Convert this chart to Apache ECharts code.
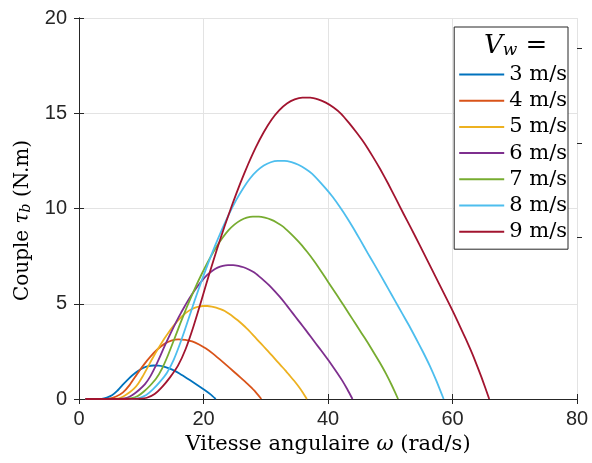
<!DOCTYPE html>
<html><head><meta charset="utf-8">
<script src="https://cdn.jsdelivr.net/npm/echarts@6/dist/echarts.min.js"></script>
<style>html,body{margin:0;padding:0;background:#fff}#c{width:592px;height:463px}</style>
</head><body><div id="c"></div>
<script>
// ---- data ----
const seriesNames = ['3 m/s', '4 m/s', '5 m/s', '6 m/s', '7 m/s', '8 m/s', '9 m/s'];
const xTicks = [0, 20, 40, 60, 80];
const yTicks = [0, 5, 10, 15, 20];

const omega3 = [1, 1.967, 2.8, 3.633, 4.467, 5.3, 6.133, 6.967, 7.8, 8.633, 9.467, 10.3, 11.133, 11.967, 12.8, 13.633, 14.467, 15.3, 16.133, 16.967, 17.8, 18.633, 19.467, 20.3, 21.133, 21.967];
const torque3 = [0, 0, 0.0002, 0.0072, 0.0722, 0.1944, 0.4244, 0.7267, 1.0089, 1.2578, 1.4678, 1.6278, 1.7233, 1.7578, 1.7478, 1.7, 1.6089, 1.4889, 1.34, 1.1689, 0.9922, 0.8133, 0.6322, 0.4467, 0.2444, 0];

const omega4 = [1, 2.62, 3.73, 4.84, 5.96, 7.07, 8.18, 9.29, 10.4, 11.51, 12.62, 13.73, 14.84, 15.96, 17.07, 18.18, 19.29, 20.4, 21.51, 22.62, 23.73, 24.84, 25.96, 27.07, 28.18, 29.29];
const torque4 = [0, 0, 0.0004, 0.0128, 0.1284, 0.3457, 0.7546, 1.2919, 1.7936, 2.236, 2.6094, 2.8938, 3.0637, 3.1249, 3.1071, 3.0222, 2.8602, 2.6469, 2.3822, 2.078, 1.7639, 1.4459, 1.124, 0.7941, 0.4346, 0];

const omega5 = [1, 3.28, 3.972, 4.67, 5.361, 6.06, 6.75, 7.44, 8.139, 8.83, 9.528, 10.22, 10.917, 11.61, 12.306, 13, 13.694, 14.39, 15.083, 15.78, 16.472, 17.17, 17.861, 18.56, 19.25, 19.94, 20.639, 21.33, 22.028, 22.72, 23.417, 24.11, 24.806, 25.5, 26.194, 26.89, 27.583, 28.28, 28.972, 29.67, 30.361, 31.06, 31.75, 32.44, 33.139, 33.83, 34.528, 35.22, 35.917, 36.61];
const torque5 = [0, 0, 0, 0.0006, 0.0046, 0.0201, 0.0802, 0.2006, 0.3549, 0.5401, 0.8148, 1.179, 1.5926, 2.0185, 2.4228, 2.8025, 3.1605, 3.4938, 3.7994, 4.0771, 4.3179, 4.5216, 4.6759, 4.787, 4.8549, 4.8827, 4.8827, 4.8549, 4.8025, 4.7222, 4.6173, 4.4691, 4.3086, 4.1358, 3.9352, 3.7222, 3.4907, 3.2469, 2.9969, 2.7562, 2.5093, 2.2592, 2.0062, 1.7562, 1.5062, 1.2407, 0.9691, 0.679, 0.3549, 0];

const omega6 = [1, 3.933, 4.767, 5.6, 6.433, 7.267, 8.1, 8.933, 9.767, 10.6, 11.433, 12.267, 13.1, 13.933, 14.767, 15.6, 16.433, 17.267, 18.1, 18.933, 19.767, 20.6, 21.433, 22.267, 23.1, 23.933, 24.767, 25.6, 26.433, 27.267, 28.1, 28.933, 29.767, 30.6, 31.433, 32.267, 33.1, 33.933, 34.767, 35.6, 36.433, 37.267, 38.1, 38.933, 39.767, 40.6, 41.433, 42.267, 43.1, 43.933];
const torque6 = [0, 0, 0, 0.0009, 0.0067, 0.0289, 0.1156, 0.2889, 0.5111, 0.7778, 1.1733, 1.6978, 2.2933, 2.9067, 3.4889, 4.0356, 4.5511, 5.0311, 5.4711, 5.8711, 6.2178, 6.5111, 6.7333, 6.8933, 6.9911, 7.0311, 7.0311, 6.9911, 6.9156, 6.8, 6.6489, 6.4356, 6.2044, 5.9556, 5.6667, 5.36, 5.0267, 4.6756, 4.3156, 3.9689, 3.6133, 3.2533, 2.8889, 2.5289, 2.1689, 1.7867, 1.3956, 0.9778, 0.5111, 0];

const omega7 = [1, 4.589, 5.561, 6.533, 7.506, 8.478, 9.45, 10.422, 11.394, 12.367, 13.339, 14.311, 15.283, 16.256, 17.228, 18.2, 19.172, 20.144, 21.117, 22.089, 23.061, 24.033, 25.006, 25.978, 26.95, 27.922, 28.894, 29.867, 30.839, 31.811, 32.783, 33.756, 34.728, 35.7, 36.672, 37.644, 38.617, 39.589, 40.561, 41.533, 42.506, 43.478, 44.45, 45.422, 46.394, 47.367, 48.339, 49.311, 50.283, 51.256];
const torque7 = [0, 0, 0, 0.0012, 0.0091, 0.0393, 0.1573, 0.3932, 0.6957, 1.0586, 1.597, 2.3109, 3.1215, 3.9563, 4.7488, 5.4929, 6.1946, 6.8479, 7.4468, 7.9913, 8.4631, 8.8624, 9.1648, 9.3826, 9.5157, 9.5702, 9.5702, 9.5157, 9.4128, 9.2556, 9.0499, 8.7595, 8.445, 8.1062, 7.713, 7.2956, 6.8419, 6.364, 5.874, 5.4021, 4.9182, 4.4282, 3.9321, 3.4421, 2.9521, 2.4319, 1.8995, 1.3309, 0.6957, 0];

const omega8 = [1, 5.244, 6.356, 7.467, 8.578, 9.689, 10.8, 11.911, 13.022, 14.133, 15.244, 16.356, 17.467, 18.578, 19.689, 20.8, 21.911, 23.022, 24.133, 25.244, 26.356, 27.467, 28.578, 29.689, 30.8, 31.911, 33.022, 34.133, 35.244, 36.356, 37.467, 38.578, 39.689, 40.8, 41.911, 43.022, 44.133, 45.244, 46.356, 47.467, 48.578, 49.689, 50.8, 51.911, 53.022, 54.133, 55.244, 56.356, 57.467, 58.578];
const torque8 = [0, 0, 0, 0.0016, 0.0119, 0.0514, 0.2054, 0.5136, 0.9086, 1.3827, 2.0859, 3.0183, 4.077, 5.1674, 6.2024, 7.1743, 8.0908, 8.9442, 9.7264, 10.4375, 11.0538, 11.5753, 11.9703, 12.2548, 12.4286, 12.4997, 12.4997, 12.4286, 12.2943, 12.0888, 11.8202, 11.4409, 11.0301, 10.5876, 10.074, 9.5289, 8.9363, 8.3121, 7.6721, 7.0558, 6.4237, 5.7837, 5.1358, 4.4958, 3.8558, 3.1763, 2.481, 1.7383, 0.9086, 0];

const omega9 = [1, 5.9, 7.15, 8.4, 9.65, 10.9, 12.15, 13.4, 14.65, 15.9, 17.15, 18.4, 19.65, 20.9, 22.15, 23.4, 24.65, 25.9, 27.15, 28.4, 29.65, 30.9, 32.15, 33.4, 34.65, 35.9, 37.15, 38.4, 39.65, 40.9, 42.15, 43.4, 44.65, 45.9, 47.15, 48.4, 49.65, 50.9, 52.15, 53.4, 54.65, 55.9, 57.15, 58.4, 59.65, 60.9, 62.15, 63.4, 64.65, 65.9];
const torque9 = [0, 0, 0, 0.002, 0.015, 0.065, 0.26, 0.65, 1.15, 1.75, 2.64, 3.82, 5.16, 6.54, 7.85, 9.08, 10.24, 11.32, 12.31, 13.21, 13.99, 14.65, 15.15, 15.51, 15.73, 15.82, 15.82, 15.73, 15.56, 15.3, 14.96, 14.48, 13.96, 13.4, 12.75, 12.06, 11.31, 10.52, 9.71, 8.93, 8.13, 7.32, 6.5, 5.69, 4.88, 4.02, 3.14, 2.2, 1.15, 0];

const rightOuterTicks = [8.47, 13.45, 18.42];
// ---------------------------------------

const colors = ['#0072BD', '#D95319', '#EDB120', '#7E2F8E', '#77AC30', '#4DBEEE', '#A2142F'];
const omegas = [omega3, omega4, omega5, omega6, omega7, omega8, omega9];
const torques = [torque3, torque4, torque5, torque6, torque7, torque8, torque9];

const axisColor = '#262626';
const gridColor = '#e3e3e3';
const serif = '"DejaVu Serif", "Liberation Serif", serif';
const sans = '"Liberation Sans", Arial, Helvetica, sans-serif';

const chart = echarts.init(document.getElementById('c'), null, {renderer: 'canvas'});

const xMin = xTicks[0], xMax = xTicks[xTicks.length - 1], xInt = xTicks[1] - xTicks[0];
const yMin = yTicks[0], yMax = yTicks[yTicks.length - 1], yInt = yTicks[1] - yTicks[0];

const series = seriesNames.map((n, i) => ({
  name: n,
  type: 'line',
  xAxisIndex: 0, yAxisIndex: 0,
  data: omegas[i].map((w, k) => [w, torques[i][k]]),
  smooth: 0.15,
  symbol: 'none',
  showSymbol: false,
  clip: true,
  lineStyle: {color: colors[i], width: 1.8, join: 'round'},
  itemStyle: {color: colors[i]},
  z: 3 + i
}));

chart.setOption({
  animation: false,
  backgroundColor: '#fff',
  grid: {left: 79, right: 15, top: 18, bottom: 64, containLabel: false},
  xAxis: [{
    type: 'value', min: xMin, max: xMax, interval: xInt, position: 'bottom',
    name: '{t|Vitesse angulaire }{i|ω}{t| (rad/s)}',
    nameLocation: 'middle', nameGap: 30,
    nameTextStyle: {rich: {
      t: {fontFamily: serif, fontSize: 21, color: '#000'},
      i: {fontFamily: serif, fontSize: 21, fontStyle: 'italic', color: '#000'}
    }},
    axisLine: {show: true, lineStyle: {color: axisColor, width: 1}},
    axisTick: {show: true, inside: true, length: 5, lineStyle: {color: axisColor}},
    axisLabel: {show: true, margin: 10, fontFamily: sans, fontSize: 20, color: axisColor},
    splitLine: {show: true, lineStyle: {color: gridColor, width: 1}}
  }, {
    type: 'value', min: xMin, max: xMax, interval: xInt, position: 'top',
    axisLine: {show: true, lineStyle: {color: axisColor, width: 1}},
    axisTick: {show: true, inside: true, length: 5, lineStyle: {color: axisColor}},
    axisLabel: {show: false}, splitLine: {show: false}
  }],
  yAxis: [{
    type: 'value', min: yMin, max: yMax, interval: yInt, position: 'left',
    name: '{t|Couple }{i|τ}{s|b}{t| (N.m)}',
    nameLocation: 'middle', nameGap: 35, nameRotate: 90,
    nameTextStyle: {padding: [0, 24, 0, 0], rich: {
      t: {fontFamily: serif, fontSize: 20, color: '#000'},
      i: {fontFamily: serif, fontSize: 20, fontStyle: 'italic', color: '#000'},
      s: {fontFamily: serif, fontSize: 14, fontStyle: 'italic', color: '#000', padding: [8, 0, 0, 0]}
    }},
    axisLine: {show: true, lineStyle: {color: axisColor, width: 1}},
    axisTick: {show: true, inside: true, length: 5, lineStyle: {color: axisColor}},
    axisLabel: {show: true, margin: 12, fontFamily: sans, fontSize: 20, color: axisColor},
    splitLine: {show: true, lineStyle: {color: gridColor, width: 1}}
  }, {
    type: 'value', min: yMin, max: yMax, interval: yInt, position: 'right',
    axisLine: {show: true, lineStyle: {color: axisColor, width: 1}},
    axisTick: {show: true, inside: true, length: 5, lineStyle: {color: axisColor}},
    axisLabel: {show: false}, splitLine: {show: false}
  }, {
    type: 'value', min: yMin, max: yMax, interval: yInt, position: 'right',
    axisLine: {show: false},
    axisTick: {show: true, inside: false, length: 5, customValues: rightOuterTicks, lineStyle: {color: axisColor}},
    axisLabel: {show: false}, splitLine: {show: false}
  }],
  legend: {
    data: seriesNames,
    orient: 'vertical',
    right: 24, top: 27,
    padding: [37, 1, 7, 5],
    icon: 'rect',
    itemWidth: 45, itemHeight: 2, itemGap: 5.2,
    borderColor: axisColor, borderWidth: 1, borderRadius: 0,
    backgroundColor: '#fff',
    textStyle: {fontFamily: serif, fontSize: 21, color: '#000', lineHeight: 20},
    z: 10
  },
  graphic: [{
    type: 'text', left: 484, top: 33, z: 20,
    style: {
      text: '{v|V}{w|w}{e| =}',
      rich: {
        v: {fontFamily: serif, fontSize: 26, fontStyle: 'italic', fill: '#000'},
        w: {fontFamily: serif, fontSize: 17, fontStyle: 'italic', fill: '#000', padding: [10, 0, 0, 0]},
        e: {fontFamily: serif, fontSize: 26, fill: '#000'}
      }
    }
  }],
  series: series
});
</script>
</body></html>
